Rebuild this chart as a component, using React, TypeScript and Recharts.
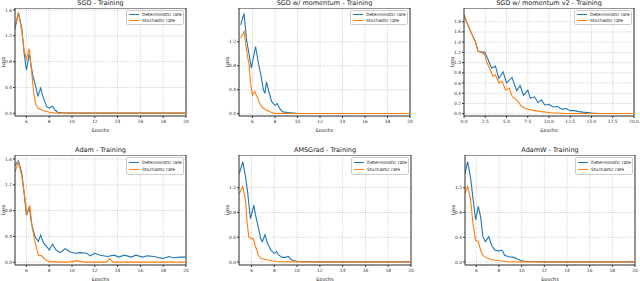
import { LineChart, Line, XAxis, YAxis, CartesianGrid, ReferenceLine } from "recharts";

const BLUE = "#1f77b4";
const ORANGE = "#ff7f0e";
const FONT = "'DejaVu Sans', sans-serif";

// SGD
const sgdDetEpoch = [5.0, 5.3, 5.6, 5.8, 6.0, 6.25, 6.55, 6.9, 7.0, 7.25, 7.5, 7.8, 8.0, 8.3, 8.5, 8.8, 9.4, 10, 12, 14, 16, 18, 20];
const sgdDetLoss = [1.31, 1.56, 1.31, 0.93, 0.67, 0.92, 0.6, 0.36, 0.26, 0.39, 0.23, 0.1, 0.08, 0.11, 0.05, 0.01, 0.004, 0.003, 0.003, 0.003, 0.003, 0.003, 0.003];
const sgdStoEpoch = [5.0, 5.3, 5.6, 5.8, 6.0, 6.25, 6.5, 6.65, 6.8, 7.0, 7.5, 8.0, 8.5, 10, 12, 14, 16, 18, 20];
const sgdStoLoss = [1.34, 1.56, 1.26, 0.98, 0.84, 1.0, 0.57, 0.31, 0.15, 0.08, 0.04, 0.015, 0.005, 0.002, 0.002, 0.002, 0.002, 0.002, 0.002];

// SGD w/ momentum
const momDetEpoch = [4.95, 5.25, 5.47, 5.76, 5.9, 6.27, 6.5, 6.8, 6.94, 7.1, 7.24, 7.45, 7.7, 8.0, 8.2, 8.4, 8.7, 9.3, 9.9, 12, 14, 16, 18, 20];
const momDetLoss = [1.48, 1.67, 1.23, 0.92, 0.76, 1.12, 0.87, 0.59, 0.42, 0.34, 0.53, 0.37, 0.2, 0.14, 0.17, 0.09, 0.03, 0.017, 0.005, 0.003, 0.003, 0.003, 0.003, 0.003];
const momStoEpoch = [4.95, 5.25, 5.47, 5.7, 5.82, 6.0, 6.2, 6.45, 6.65, 6.94, 7.24, 7.7, 8.1, 10, 12, 14, 16, 18, 20];
const momStoLoss = [1.26, 1.37, 1.06, 0.81, 0.51, 0.31, 0.37, 0.26, 0.17, 0.09, 0.06, 0.02, 0.005, 0.003, 0.003, 0.003, 0.003, 0.003, 0.003];

// SGD w/ momentum v2
const v2DetEpoch = [0, 0.3, 0.7, 1.05, 1.35, 1.65, 2.0, 2.45, 2.85, 3.25, 3.7, 4.1, 4.6, 5.0, 5.65, 6.2, 6.6, 7.0, 7.5, 7.8, 8.3, 8.7, 9.1, 9.5, 10.0, 10.5, 11.0, 11.5, 12.0, 12.5, 13.0, 13.5, 14.0, 15.0, 16.0, 18.0, 20.0];
const v2DetLoss = [1.93, 1.8, 1.64, 1.51, 1.41, 1.22, 1.21, 1.2, 1.05, 0.89, 0.93, 0.69, 0.82, 0.6, 0.71, 0.45, 0.55, 0.36, 0.46, 0.3, 0.33, 0.22, 0.27, 0.17, 0.18, 0.13, 0.14, 0.09, 0.1, 0.06, 0.06, 0.04, 0.03, 0.015, 0.005, 0.003, 0.003];
const v2StoEpoch = [0, 0.3, 0.7, 1.05, 1.35, 1.65, 2.0, 2.45, 2.65, 3.0, 3.4, 3.7, 4.1, 4.5, 4.9, 5.3, 5.7, 6.2, 6.8, 7.2, 8.0, 9.1, 10.3, 12.0, 14, 16, 18, 20];
const v2StoLoss = [1.93, 1.8, 1.64, 1.51, 1.41, 1.22, 1.2, 1.15, 1.02, 0.89, 0.73, 0.76, 0.6, 0.63, 0.46, 0.5, 0.33, 0.27, 0.14, 0.1, 0.07, 0.04, 0.02, 0.005, 0.003, 0.003, 0.003, 0.003];

// Adam
const adamDetEpoch = [5.0, 5.3, 5.6, 5.8, 6.0, 6.25, 6.45, 6.75, 7.05, 7.25, 7.5, 7.8, 8.0, 8.3, 8.6, 8.95, 9.4, 9.85, 10.3, 10.7, 11.3, 11.6, 12.0, 12.5, 13.1, 13.7, 14.1, 14.6, 15.2, 15.6, 16.2, 16.6, 17.2, 17.6, 18.0, 18.5, 18.9, 19.5, 20.0];
const adamDetLoss = [1.5, 1.57, 1.38, 1.07, 0.73, 0.86, 0.6, 0.4, 0.32, 0.42, 0.3, 0.24, 0.19, 0.28, 0.19, 0.15, 0.21, 0.16, 0.14, 0.15, 0.14, 0.1, 0.14, 0.11, 0.09, 0.11, 0.08, 0.11, 0.08, 0.11, 0.08, 0.1, 0.09, 0.07, 0.06, 0.09, 0.07, 0.08, 0.08];
const adamStoEpoch = [5.0, 5.3, 5.6, 5.9, 6.05, 6.3, 6.5, 6.75, 7.05, 7.35, 7.65, 8.05, 9.5, 10.0, 10.4, 10.8, 11.3, 13.0, 13.3, 13.6, 15, 20];
const adamStoLoss = [1.4, 1.55, 1.33, 0.96, 0.73, 0.88, 0.55, 0.32, 0.11, 0.1, 0.04, 0.01, 0.003, 0.01, 0.025, 0.01, 0.003, 0.003, 0.055, 0.003, 0.003, 0.003];

// AMSGrad
const amsDetEpoch = [4.94, 5.23, 5.47, 5.67, 5.9, 6.06, 6.2, 6.35, 6.65, 6.8, 6.95, 7.18, 7.4, 7.7, 8.0, 8.2, 8.4, 8.7, 9.0, 9.25, 9.45, 9.75, 10.2, 12, 14, 16, 18, 20];
const amsDetLoss = [1.43, 1.62, 1.38, 1.11, 0.7, 0.81, 0.92, 0.76, 0.52, 0.38, 0.33, 0.44, 0.3, 0.19, 0.14, 0.17, 0.11, 0.075, 0.075, 0.09, 0.04, 0.02, 0.005, 0.003, 0.003, 0.003, 0.003, 0.003];
const amsStoEpoch = [4.94, 5.23, 5.47, 5.62, 5.76, 6.0, 6.15, 6.35, 6.6, 6.8, 7.25, 7.8, 8.4, 10, 12, 14, 16, 18, 20];
const amsStoLoss = [1.11, 1.22, 1.0, 0.62, 0.41, 0.37, 0.38, 0.25, 0.11, 0.06, 0.04, 0.02, 0.005, 0.003, 0.003, 0.003, 0.003, 0.003, 0.003];

// AdamW
const adamwDetEpoch = [5.0, 5.23, 5.5, 5.7, 5.94, 6.17, 6.38, 6.58, 6.8, 7.1, 7.35, 7.64, 7.99, 8.28, 8.5, 8.86, 9.3, 9.7, 10.0, 10.3, 12, 14, 16, 18, 20];
const adamwDetLoss = [1.43, 1.62, 1.35, 1.03, 0.68, 0.9, 0.73, 0.41, 0.33, 0.41, 0.27, 0.19, 0.18, 0.19, 0.11, 0.086, 0.075, 0.04, 0.02, 0.01, 0.003, 0.003, 0.003, 0.003, 0.003];
const adamwStoEpoch = [5.0, 5.23, 5.5, 5.7, 5.94, 6.17, 6.38, 6.58, 6.8, 7.25, 7.99, 8.86, 10, 12, 14, 16, 18, 20];
const adamwStoLoss = [1.11, 1.22, 1.0, 0.62, 0.35, 0.33, 0.19, 0.11, 0.075, 0.04, 0.02, 0.005, 0.003, 0.003, 0.003, 0.003, 0.003, 0.003];

// ticks
const epochTicks = [6, 8, 10, 12, 14, 16, 18, 20];
const v2EpochTicks = [0, 2.5, 5, 7.5, 10, 12.5, 15, 17.5, 20];
const lossTicks = [0, 0.4, 0.8, 1.2, 1.6];
const lossTicksShort = [0, 0.4, 0.8, 1.2];
const v2LossTicks = [0, 0.2, 0.4, 0.6, 0.8, 1.0, 1.2, 1.4, 1.6, 1.8];

type Pt = { epoch: number; loss: number };
const zip = (e: number[], l: number[]): Pt[] => e.map((x, i) => ({ epoch: x, loss: l[i] }));

const YW = 16;
const XH = 16;
const RM = 6; // room on the right for the last tick label

type Box = { x: number; y: number; w: number; h: number };

function Panel(p: {
  title: string;
  plot: Box;
  xDomain: [number, number];
  xTicks: number[];
  xFmt: (v: number) => string;
  yDomain: [number, number];
  yTicks: number[];
  det: Pt[];
  sto: Pt[];
}) {
  const { plot } = p;
  const tick = { fill: "#333", fontSize: 4.4, fontFamily: FONT };
  const legH = plot.y > 100 ? 18 : 15;
  return (
    <>
      <div style={{ position: "absolute", left: plot.x, width: plot.w, top: plot.y - 9, textAlign: "center", fontSize: 6.5, lineHeight: "8px", fontFamily: FONT, color: "#222", whiteSpace: "nowrap" }}>
        {p.title}
      </div>
      <div style={{ position: "absolute", left: plot.x - YW, top: plot.y }}>
        <LineChart width={plot.w + YW + RM} height={plot.h + XH} margin={{ top: 0, right: RM, bottom: 0, left: 0 }}>
          <CartesianGrid stroke="#b0b0b0" strokeDasharray="1 1.2" strokeWidth={0.6} />
          <XAxis
            type="number"
            dataKey="epoch"
            domain={p.xDomain}
            ticks={p.xTicks}
            interval={0}
            allowDataOverflow
            height={XH}
            tick={tick}
            tickFormatter={p.xFmt}
            tickSize={2}
            tickMargin={1.5}
            stroke="#333"
            label={{ value: "Epochs", position: "insideBottom", offset: 0, fontSize: 4.9, fill: "#222", fontFamily: FONT }}
          />
          <YAxis
            type="number"
            domain={p.yDomain}
            ticks={p.yTicks}
            interval={0}
            allowDataOverflow
            width={YW}
            tick={tick}
            tickFormatter={(v: number) => v.toFixed(1)}
            tickSize={2}
            tickMargin={1}
            stroke="#333"
            label={{ value: "Loss", angle: -90, position: "insideLeft", offset: 4.5, fontSize: 4.9, fill: "#222", fontFamily: FONT, style: { textAnchor: "middle" } }}
          />
          <ReferenceLine y={p.yDomain[1]} stroke="#333" />
          <ReferenceLine x={p.xDomain[1]} stroke="#333" />
          <Line data={p.det} dataKey="loss" type="linear" stroke={BLUE} strokeWidth={1.1} dot={false} isAnimationActive={false} />
          <Line data={p.sto} dataKey="loss" type="linear" stroke={ORANGE} strokeWidth={1.1} dot={false} isAnimationActive={false} />
        </LineChart>
      </div>
      <div
        style={{
          position: "absolute",
          left: plot.x + plot.w - 60,
          top: plot.y + 2,
          width: 58,
          height: legH,
          boxSizing: "border-box",
          border: "0.6px solid #ccc",
          borderRadius: 2,
          background: "rgba(255,255,255,0.85)",
          fontFamily: FONT,
          fontSize: 4.4,
          color: "#222",
          display: "flex",
          flexDirection: "column",
          justifyContent: "space-evenly",
          paddingLeft: 2,
        }}
      >
        {[
          { c: BLUE, t: "Deterministic rate" },
          { c: ORANGE, t: "Stochastic rate" },
        ].map((it) => (
          <div key={it.t} style={{ display: "flex", alignItems: "center", lineHeight: "5px" }}>
            <span style={{ display: "inline-block", width: 10, height: 1.4, background: it.c, marginRight: 3 }} />
            <span>{it.t}</span>
          </div>
        ))}
      </div>
    </>
  );
}

const intFmt = (v: number) => String(v);
const decFmt = (v: number) => v.toFixed(1);

export default function App() {
  return (
    <div style={{ position: "absolute", left: 0, top: 0, width: 640, height: 281, background: "#fff", overflow: "hidden" }}>
      <Panel title="SGD - Training" plot={{ x: 15, y: 8, w: 171, h: 108 }} xDomain={[5, 20]} xTicks={epochTicks} xFmt={intFmt} yDomain={[-0.042, 1.631]} yTicks={lossTicks} det={zip(sgdDetEpoch, sgdDetLoss)} sto={zip(sgdStoEpoch, sgdStoLoss)} />
      <Panel title="SGD w/ momentum - Training" plot={{ x: 239, y: 8, w: 171, h: 108 }} xDomain={[4.8, 20]} xTicks={epochTicks} xFmt={intFmt} yDomain={[-0.038, 1.762]} yTicks={lossTicksShort} det={zip(momDetEpoch, momDetLoss)} sto={zip(momStoEpoch, momStoLoss)} />
      <Panel title="SGD w/ momentum v2 - Training" plot={{ x: 464, y: 8, w: 170, h: 108 }} xDomain={[0, 20]} xTicks={v2EpochTicks} xFmt={decFmt} yDomain={[-0.045, 2.068]} yTicks={v2LossTicks} det={zip(v2DetEpoch, v2DetLoss)} sto={zip(v2StoEpoch, v2StoLoss)} />
      <Panel title="Adam - Training" plot={{ x: 15, y: 155, w: 171, h: 110 }} xDomain={[5, 20]} xTicks={epochTicks} xFmt={intFmt} yDomain={[-0.042, 1.662]} yTicks={lossTicks} det={zip(adamDetEpoch, adamDetLoss)} sto={zip(adamStoEpoch, adamStoLoss)} />
      <Panel title="AMSGrad - Training" plot={{ x: 239, y: 155, w: 172, h: 110 }} xDomain={[4.9, 20]} xTicks={epochTicks} xFmt={intFmt} yDomain={[-0.048, 1.728]} yTicks={lossTicksShort} det={zip(amsDetEpoch, amsDetLoss)} sto={zip(amsStoEpoch, amsStoLoss)} />
      <Panel title="AdamW - Training" plot={{ x: 465, y: 155, w: 170, h: 110 }} xDomain={[5, 20]} xTicks={epochTicks} xFmt={intFmt} yDomain={[-0.048, 1.728]} yTicks={lossTicksShort} det={zip(adamwDetEpoch, adamwDetLoss)} sto={zip(adamwStoEpoch, adamwStoLoss)} />
    </div>
  );
}
